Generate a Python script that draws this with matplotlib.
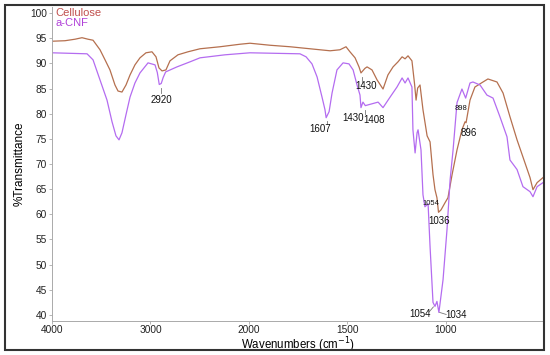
import numpy as np
import matplotlib
matplotlib.use("Agg")
from matplotlib import pyplot as plt
from matplotlib.patches import Rectangle

# FTIR spectra (wavenumber, %T)
cell_wn = [4000, 3868, 3766, 3695, 3634, 3583, 3512, 3461, 3411, 3360, 3329, 3289,
           3248, 3207, 3157, 3106, 3045, 2984, 2943, 2913, 2882, 2842, 2801, 2720,
           2618, 2496, 2293, 2090, 1994, 1892, 1790, 1689, 1587, 1537, 1506, 1486,
           1460, 1440, 1430, 1410, 1399, 1374, 1348, 1318, 1293, 1267, 1242, 1221,
           1206, 1191, 1171, 1158, 1150, 1142, 1130, 1115, 1094, 1079, 1064,
           1054, 1044, 1036, 1023, 1003, 988, 967, 942, 917, 901, 896, 876,
           851, 810, 785, 739, 708, 673, 637, 607, 571, 556, 535, 505]
cell_t = [94.4, 94.5, 94.8, 95.1, 94.8, 94.6, 92.7, 90.7, 88.7, 85.7, 84.5, 84.3,
          85.7, 87.7, 89.7, 91.1, 92.1, 92.3, 91.3, 89.1, 88.5, 88.7, 90.5, 91.7,
          92.3, 92.9, 93.3, 93.8, 94.0, 93.6, 93.3, 92.9, 92.5, 92.7, 93.3, 92.3,
          91.1, 89.3, 88.1, 89.0, 89.3, 88.7, 86.7, 84.9, 87.7, 89.3, 90.3, 91.3,
          90.9, 91.5, 90.5, 86.0, 82.7, 85.1, 85.7, 80.8, 75.6, 74.4, 67.9,
          64.9, 63.3, 60.4, 60.9, 62.3, 63.3, 67.9, 72.8, 76.8, 78.4, 78.2, 82.7,
          85.3, 86.3, 86.9, 86.3, 84.1, 79.4, 74.8, 71.4, 67.3, 64.9, 66.3, 67.3]

cnf_wn = [4000, 3644, 3583, 3512, 3441, 3390, 3350, 3319, 3289, 3248, 3207, 3157,
          3106, 3024, 2953, 2930, 2910, 2890, 2870, 2845, 2730, 2598, 2496, 2242,
          1994, 1740, 1709, 1679, 1653, 1628, 1613, 1607, 1592, 1577, 1552, 1521,
          1491, 1470, 1450, 1435, 1430, 1420, 1408, 1343, 1318, 1282, 1247, 1221,
          1206, 1191, 1171, 1166, 1155, 1145, 1140, 1125, 1115, 1105, 1089, 1079,
          1064, 1054, 1044, 1034, 1013, 993, 977, 962, 942, 917, 898, 876,
          861, 825, 790, 759, 724, 688, 673, 637, 607, 571, 556, 535, 505]
cnf_t = [92.1, 91.9, 90.7, 86.7, 82.7, 78.4, 75.6, 74.8, 76.2, 79.8, 83.3, 86.1,
         88.1, 90.1, 89.7, 88.2, 85.8, 86.0, 87.2, 88.3, 89.3, 90.3, 91.1, 91.7,
         92.1, 91.9, 91.3, 89.9, 87.3, 83.3, 80.8, 79.2, 80.4, 84.1, 88.7, 90.1,
         89.9, 88.7, 85.7, 83.7, 81.2, 82.3, 81.6, 82.3, 81.2, 83.3, 85.3, 87.1,
         86.1, 87.1, 85.3, 76.8, 72.2, 76.2, 76.8, 72.8, 63.9, 61.5, 62.1, 53.6,
         42.5, 41.7, 42.7, 40.5, 47.0, 56.9, 66.9, 72.8, 82.2, 84.9, 83.1, 86.1,
         86.3, 85.7, 83.7, 83.1, 79.4, 75.4, 70.8, 68.9, 65.5, 64.5, 63.5, 65.5, 66.3]

xticks = [4000, 3000, 2000, 1500, 1000]
yticks = list(range(40, 101, 5))


# scale break at 2000: below it the axis is stretched 2x
def fwd(w):
    w = np.asarray(w, dtype=float)
    return np.where(w >= 2000, w, 2 * w - 2000)


def inv(v):
    v = np.asarray(v, dtype=float)
    return np.where(v >= 2000, v, (v + 2000) / 2)


plt.rcParams['font.family'] = ['Liberation Sans', 'DejaVu Sans']

fig = plt.figure(figsize=(5.5, 3.55), dpi=100)
ax = fig.add_axes([52 / 550, 34 / 355, 492 / 550, 315 / 355])
ax.set_xscale('function', functions=(fwd, inv))

ax.plot(cell_wn, cell_t, color='#b5704f', lw=0.9)
ax.plot(cnf_wn, cnf_t, color='#b46cf0', lw=0.9)

ax.set_xlim(4000, 500)
ax.set_ylim(38.8, 101.4)
ax.set_xticks(xticks)
ax.set_xticklabels([str(t) for t in xticks])
ax.xaxis.set_minor_locator(matplotlib.ticker.NullLocator())
ax.set_yticks(yticks)
ax.tick_params(axis='both', labelsize=7.3, labelcolor='#222222', length=2,
               width=0.6, color='#aaaaaa')
ax.tick_params(axis='x', pad=1)
ax.tick_params(axis='y', pad=1.5)

for s in ['top', 'right']:
    ax.spines[s].set_visible(False)
for s in ['left', 'bottom']:
    ax.spines[s].set_color('#aaaaaa')
    ax.spines[s].set_linestyle((0, (2, 1)))
    ax.spines[s].set_linewidth(0.7)

ax.set_xlabel('Wavenumbers (cm$^{-1}$)', fontsize=8.3, labelpad=0)
ax.set_ylabel('%Transmittance', fontsize=8.5, labelpad=3)

# legend as coloured text
ax.text(0.007, 0.978, 'Cellulose', transform=ax.transAxes, color='#c0504d',
        fontsize=8, va='center', ha='left')
ax.text(0.007, 0.945, 'a-CNF', transform=ax.transAxes, color='#b040d8',
        fontsize=8, va='center', ha='left')

# peak labels with small tick marks
tick_kw = dict(color='#777777', lw=0.6)
lab_kw = dict(fontsize=7, color='#111111', ha='center', va='center')
small_kw = dict(fontsize=5.5, color='#111111', ha='center', va='center')

ax.plot([2895, 2895], [85.2, 84.1], **tick_kw)
ax.text(2885, 82.7, '2920', **lab_kw)
ax.plot([1603, 1603], [78.6, 77.9], **tick_kw)
ax.text(1638, 76.9, '1607', **lab_kw)
ax.plot([1425, 1425], [87.2, 86.3], **tick_kw)
ax.text(1404, 85.6, '1430', **lab_kw)
ax.plot([1409, 1409], [80.8, 80.0], **tick_kw)
ax.text(1470, 79.2, '1430', **lab_kw)
ax.text(1364, 78.8, '1408', **lab_kw)
ax.text(922, 81.0, '898', **small_kw)
ax.plot([891, 891], [77.8, 77.0], **tick_kw)
ax.text(881, 76.1, '896', **lab_kw)
ax.text(1074, 62.2, '1054', **small_kw)
ax.text(1033, 58.7, '1036', **lab_kw)
ax.plot([1084, 1062], [40.6, 41.6], **tick_kw)
ax.text(1130, 40.2, '1054', **lab_kw)
ax.plot([1030, 997], [40.5, 40.1], **tick_kw)
ax.text(947, 39.9, '1034', **lab_kw)

# outer frame round the whole picture
fig.patches.append(Rectangle((5 / 550, 5 / 355), 539 / 550, 345 / 355,
                             transform=fig.transFigure, fill=False,
                             edgecolor='#333333', lw=1.5))

fig.savefig('out.png', dpi=100)
